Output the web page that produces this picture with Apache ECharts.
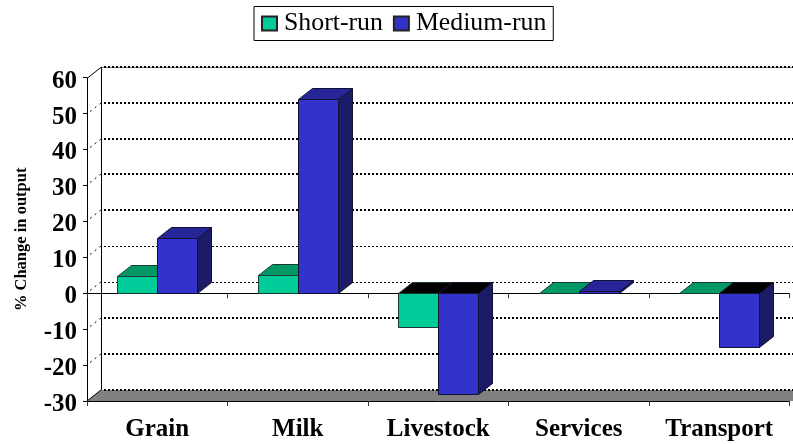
<!DOCTYPE html>
<html><head><meta charset="utf-8">
<style>html,body{margin:0;padding:0;background:#fff}#c{width:793px;height:444px}</style>
<script src="https://cdn.jsdelivr.net/npm/echarts@6/dist/echarts.min.js"></script>
</head><body><div id="c"></div>
<script>
const categories = ['Grain','Milk','Livestock','Services','Transport'];
const shortRun = [4.8, 5.1, -9.4, 0, 0];
const mediumRun = [15.3, 54, -28, 0.5, -15];
const wallTicks = [60,50,40,30,20,10,0,-10,-20,-30];
const FONT = '"Liberation Serif","Times New Roman",serif';
const DX = 14, DY = 11, BAR = 0.285;

function bar(params, api, side, front, top, topShade, stroke) {
  const cx = api.coord([api.value(0), 0])[0];
  const w = api.size([1,0])[0] * BAR;
  const x0 = Math.round(side < 0 ? cx - w : cx) + .5;
  const x1 = Math.round(side < 0 ? cx : cx + w) + .5;
  const val = api.value(1);
  const y0 = Math.round(api.coord([0,0])[1]) + .5;
  const yv = Math.round(api.coord([0,val])[1]) + .5;
  const yT = Math.min(y0, yv), yB = Math.max(y0, yv);
  const poly = (pts, fill) => ({type:'polygon', shape:{points:pts},
    style:{fill, stroke, lineWidth:1, lineJoin:'miter'}});
  return {type:'group', children:[
    poly([[x1,yT],[x1+DX,yT-DY],[x1+DX,yB-DY],[x1,yB]], topShade.side),
    poly([[x0,yT],[x0+DX,yT-DY],[x1+DX,yT-DY],[x1,yT]], val < 0 ? '#000000' : top),
    poly([[x0,yT],[x1,yT],[x1,yB],[x0,yB]], front)
  ]};
}
const wall = (params, api) => {
  const cs = params.coordSys, v = api.value(0);
  const y = Math.round(api.coord([0,v])[1]);
  const L = cs.x, R = cs.x + cs.width + DX + 10;
  const yb = y - DY;
  const kids = [];
  if (v === -30) {
    kids.push({type:'polygon', shape:{points:[[L,y],[L+DX,yb],[R,yb],[R,y]]},
      style:{fill:'#808080', stroke:null}});
    kids.push({type:'line', shape:{x1:L,y1:y,x2:L+DX,y2:yb}, style:{stroke:'#000',lineWidth:1}});
  } else if (v === 60) {
    kids.push({type:'line', shape:{x1:L+.5,y1:y,x2:L+DX+.5,y2:yb}, style:{stroke:'#000',lineWidth:1}});
    kids.push({type:'line', shape:{x1:L+DX,y1:yb+.5,x2:R,y2:yb+.5}, style:{stroke:'#808080',lineWidth:1}});
    kids.push({type:'line', shape:{x1:L+DX+.5,y1:yb,x2:L+DX+.5,y2:Math.round(api.coord([0,-30])[1])-DY},
      style:{stroke:'#000',lineWidth:1}});
  } else {
    kids.push({type:'line', shape:{x1:L+3,y1:y-2.5,x2:L+DX,y2:yb},
      style:{stroke:'#000',lineWidth:1,lineDash:[2,4]}});
  }
  const thin = v === 10 || v === 0;
  kids.push({type:'line', shape:{x1:L+DX+3,y1:yb+(thin?.5:0),x2:R,y2:yb+(thin?.5:0)},
    style:{stroke:'#000',lineWidth:thin?1:2,lineDash:[2,2]}});
  return {type:'group', children:kids};
};
const chart = echarts.init(document.getElementById('c'), null, {renderer:'canvas'});
const axisLabelX = {show:true,fontFamily:FONT,fontWeight:'bold',fontSize:25,color:'#000',margin:16};
chart.setOption({
  animation:false,
  backgroundColor:'#fff',
  legend:{
    left:254, top:6.5, padding:[4,7,4,7], itemGap:10, itemWidth:15, itemHeight:14,
    borderColor:'#000', borderWidth:1, backgroundColor:'#fff', icon:'rect',
    textStyle:{fontFamily:FONT,fontSize:25.8,color:'#000',padding:[3,0,0,2]},
    data:['Short-run','Medium-run']
  },
  grid:{left:87,right:3.5,top:77.7,bottom:43,containLabel:false},
  xAxis:[
    {type:'category',data:categories,position:'bottom',
     axisLine:{onZero:false,lineStyle:{color:'#000',width:1}},
     axisTick:{show:true,length:5,lineStyle:{color:'#333'}},axisLabel:axisLabelX,splitLine:{show:false}},
    {type:'category',data:categories,position:'bottom',
     axisLine:{onZero:true,lineStyle:{color:'#000',width:1}},
     axisTick:{show:true,length:5,lineStyle:{color:'#333'}},axisLabel:{show:false},splitLine:{show:false}}
  ],
  yAxis:{type:'value',min:-30,max:60,interval:10,
    name:'% Change in output',nameLocation:'middle',nameGap:57,nameRotate:90,
    nameTextStyle:{fontFamily:FONT,fontWeight:'bold',fontSize:16.5,color:'#000'},
    axisLine:{show:true,onZero:false,lineStyle:{color:'#000',width:1}},
    axisTick:{show:true,length:4,lineStyle:{color:'#000'}},
    axisLabel:{fontFamily:FONT,fontWeight:'bold',fontSize:25,color:'#000',margin:10,verticalAlign:'top',lineHeight:7},
    splitLine:{show:false}},
  series:[
    {type:'custom',name:'wall',silent:true,z:1,coordinateSystem:'cartesian2d',xAxisIndex:0,
     data:wallTicks.map(v=>[v]),encode:{y:0},renderItem:wall},
    {type:'custom',name:'Short-run',z:3,coordinateSystem:'cartesian2d',xAxisIndex:0,
     itemStyle:{color:'#00CC99',borderColor:'#222',borderWidth:1},
     data:shortRun.map((v,i)=>[i,v]),encode:{x:0,y:1},
     renderItem:(p,a)=>bar(p,a,-1,'#00CC99','#009966',{side:'#009966'},'#1a3a33')},
    {type:'custom',name:'Medium-run',z:4,coordinateSystem:'cartesian2d',xAxisIndex:0,
     itemStyle:{color:'#3333CC',borderColor:'#222',borderWidth:1},
     data:mediumRun.map((v,i)=>[i,v]),encode:{x:0,y:1},
     renderItem:(p,a)=>bar(p,a,1,'#3333CC','#262699',{side:'#1B1B66'},'#111133')}
  ]
});
</script></body></html>
